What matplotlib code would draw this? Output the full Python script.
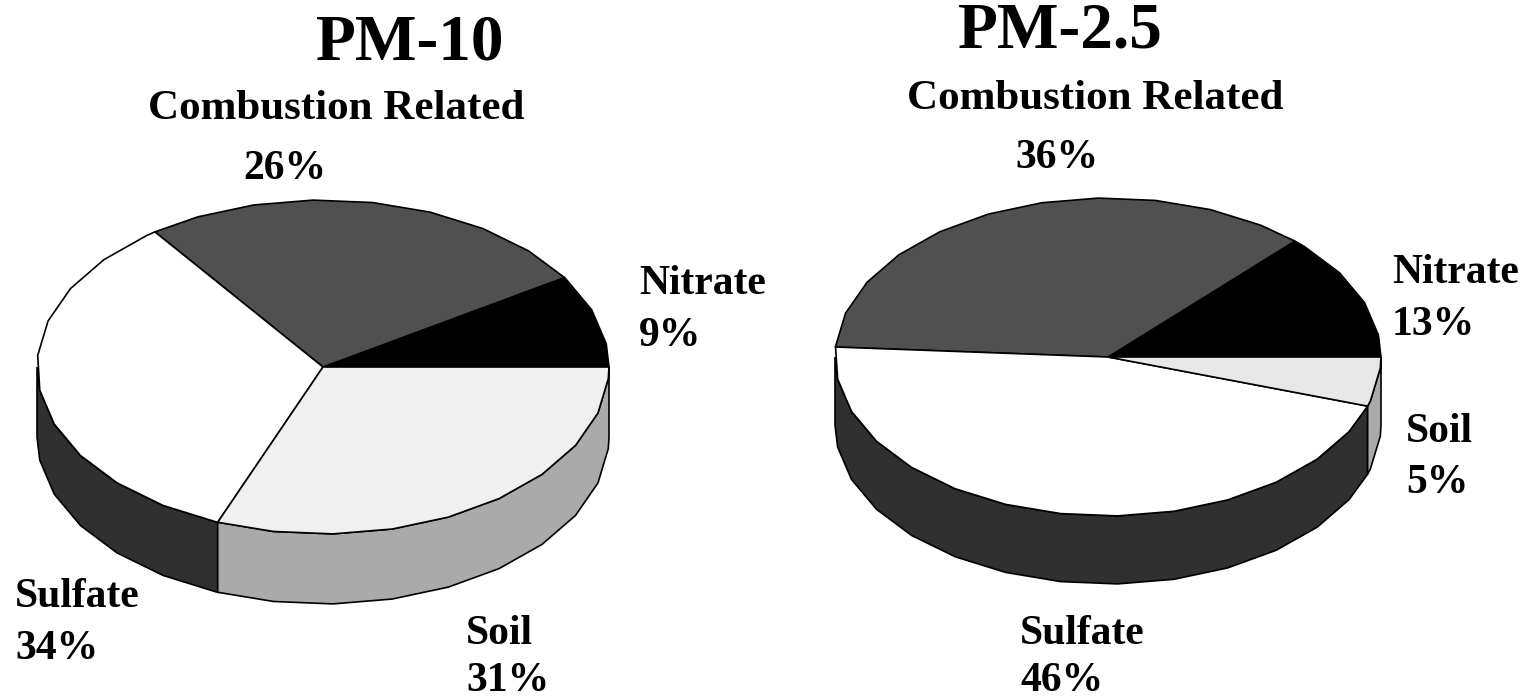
import numpy as np
import matplotlib
matplotlib.use('Agg')
import matplotlib.pyplot as plt
from matplotlib.patches import Polygon

plt.rcParams['font.family'] = ['Liberation Serif', 'DejaVu Serif']

#fatias no sentido anti-horario a partir das 3 horas
names = ['Nitrate', 'Combustion Related', 'Sulfate', 'Soil']
pm10 = [9, 26, 34, 31]
pm25 = [13, 36, 46, 5]

top_colors_10 = ['#000000', '#505050', '#ffffff', '#f0f0f0']
top_colors_25 = ['#000000', '#505050', '#ffffff', '#e8e8e8']
side_colors = ['#000000', '#505050', '#303030', '#aaaaaa']


def arco(a0, a1):
    #vertices retos de 12 em 12 graus, como no original
    meio = np.arange(np.ceil((a0 - 8) / 12) * 12 + 8, a1, 12)
    return np.radians(np.concatenate(([a0], meio[meio > a0], [a1])))


def torta(ax, valores, cx, cy, rx, ry, prof, cores):
    fim = np.cumsum(valores) * 3.6
    ini = np.concatenate(([0], fim[:-1]))

    #lateral: so a metade da frente aparece
    for a0, a1, cor in zip(ini, fim, side_colors):
        a0 = max(a0, 180)
        if a1 <= a0:
            continue
        t = arco(a0, a1)
        x = cx + rx * np.cos(t)
        y = cy - ry * np.sin(t)
        pts = np.vstack((np.c_[x, y], np.c_[x, y + prof][::-1]))
        ax.add_patch(Polygon(pts, closed=True, fc=cor, ec='black', lw=1.2))

    #tampa
    for a0, a1, cor in zip(ini, fim, cores):
        t = arco(a0, a1)
        x = cx + rx * np.cos(t)
        y = cy - ry * np.sin(t)
        pts = np.vstack(([cx, cy], np.c_[x, y]))
        ax.add_patch(Polygon(pts, closed=True, fc=cor, ec='black', lw=1.2))


fig = plt.figure(figsize=(15.37, 7.0), dpi=100)
ax = fig.add_axes([0, 0, 1, 1])
ax.set_xlim(0, 1537)
ax.set_ylim(700, 0)
ax.axis('off')

torta(ax, pm10, 323, 367, 286, 167, 70, top_colors_10)
torta(ax, pm25, 1108, 357, 273, 159, 68, top_colors_25)


def rotulo(x, y, s, size=30, ha='left'):
    ax.text(x, y, s, fontsize=size, fontweight='bold', ha=ha, va='baseline', color='black')


rotulo(410, 59, 'PM-10', size=47, ha='center')
rotulo(1060, 48, 'PM-2.5', size=47, ha='center')

rotulo(336, 119, names[1], size=31, ha='center')
rotulo(285, 179, f'{pm10[1]}%', ha='center')
rotulo(639, 294, names[0])
rotulo(639, 346, f'{pm10[0]}%')
rotulo(15, 607, names[2])
rotulo(15, 659, f'{pm10[2]}%')
rotulo(466, 644, names[3])
rotulo(466, 691, f'{pm10[3]}%')

rotulo(1095, 109, names[1], size=31, ha='center')
rotulo(1057, 168, f'{pm25[1]}%', ha='center')
rotulo(1392, 283, names[0])
rotulo(1392, 335, f'{pm25[0]}%')
rotulo(1406, 442, names[3])
rotulo(1406, 493, f'{pm25[3]}%')
rotulo(1020, 644, names[2])
rotulo(1020, 691, f'{pm25[2]}%')

fig.savefig('out.png', dpi=100)
